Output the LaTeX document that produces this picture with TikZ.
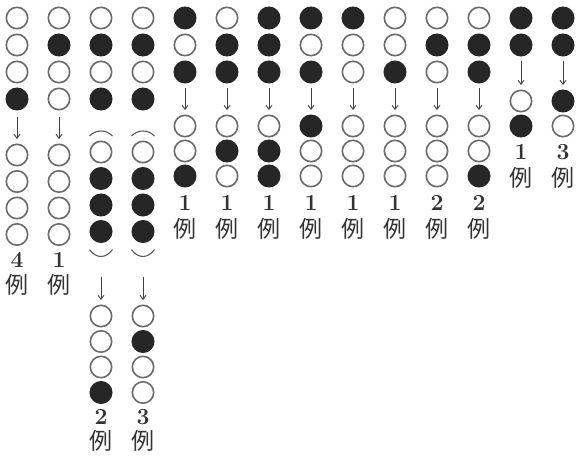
\documentclass[tikz,border=0pt]{standalone}
\usepackage{fontspec}
\newfontfamily\jpfont{Noto Sans CJK JP}
\usetikzlibrary{calc,arrows.meta}

\begin{document}
\begin{tikzpicture}[x=1pt,y=-1pt,
    wt/.style={circle,draw=black!58,line width=1.6pt,fill=white,minimum size=21.4pt,inner sep=0pt},
    bk/.style={circle,draw=black!85,line width=1.6pt,fill=black!85,minimum size=21.4pt,inner sep=0pt},
    go/.style={-{Straight Barb[length=4pt,width=6pt]},line width=0.9pt,draw=black!75,shorten >=4.5pt},
    brk/.style={line width=1.1pt,draw=black!65},
    num/.style={font=\fontsize{23}{23}\selectfont\bfseries,text=black!80,inner sep=0pt},
    rei/.style={font=\jpfont\fontsize{23}{23}\selectfont,text=black!80,inner sep=0pt}]
\useasboundingbox (0,0) rectangle (577,463);

% four over four
\foreach \k/\up/\lo/\cnt in {1/{wt,wt,wt,bk}/{wt,wt,wt,wt}/4, 2/{wt,bk,wt,wt}/{wt,wt,wt,wt}/1}{
    \foreach \s [count=\i] in \up
        \node[\s] (c\k-\i) at ({17+42*(\k-1)},{18+27*(\i-1)}) {};
    \foreach \s [count=\i from 5] in \lo
        \node[\s] (c\k-\i) at ({17+42*(\k-1)},{155+26.5*(\i-5)}) {};
    \draw[go,shorten <=6.5pt] (c\k-4) -- (c\k-5);
    \node[num] (n\k) at ({17+42*(\k-1)},260) {\cnt};
    \node[rei] (r\k) at ({17+42*(\k-1)},285) {例};
}

% four, bracketed four, four
\foreach \k/\lo/\cnt in {3/{wt,wt,wt,bk}/2, 4/{wt,bk,wt,wt}/3}{
    \foreach \s [count=\i] in {wt,bk,wt,bk}
        \node[\s] (c\k-\i) at ({17+42*(\k-1)},{18+27*(\i-1)}) {};
    \foreach \s [count=\i from 5] in {wt,bk,bk,bk}
        \node[\s] (c\k-\i) at ({17+42*(\k-1)},{152+26.5*(\i-5)}) {};
    \foreach \s [count=\i from 9] in \lo
        \node[\s] (c\k-\i) at ({17+42*(\k-1)},{316+25.5*(\i-9)}) {};
    \draw[brk] ($(c\k-5)+(-11.5,-16)$) .. controls ($(c\k-5)+(-5,-22.7)$) and ($(c\k-5)+(5,-22.7)$) .. ($(c\k-5)+(11.5,-16)$);
    \draw[brk] ($(c\k-8)+(-11.5,18)$) .. controls ($(c\k-8)+(-5,27.3)$) and ($(c\k-8)+(5,27.3)$) .. ($(c\k-8)+(11.5,18)$);
    \draw[go,shorten <=33.5pt] (c\k-8) -- (c\k-9);
    \node[num] (n\k) at ({17+42*(\k-1)},417) {\cnt};
    \node[rei] (r\k) at ({17+42*(\k-1)},441) {例};
}

% three over three
\foreach \k/\up/\lo/\cnt in {5/{bk,wt,bk}/{wt,wt,bk}/1, 6/{wt,bk,bk}/{wt,bk,wt}/1,
        7/{bk,bk,bk}/{wt,bk,bk}/1, 8/{bk,wt,bk}/{bk,wt,wt}/1, 9/{bk,wt,wt}/{wt,wt,wt}/1,
        10/{wt,wt,bk}/{wt,wt,wt}/1, 11/{wt,bk,wt}/{wt,wt,wt}/2, 12/{wt,bk,bk}/{wt,wt,bk}/2}{
    \foreach \s [count=\i] in \up
        \node[\s] (c\k-\i) at ({17+42*(\k-1)},{18+27*(\i-1)}) {};
    \foreach \s [count=\i from 4] in \lo
        \node[\s] (c\k-\i) at ({17+42*(\k-1)},{126+25*(\i-4)}) {};
    \draw[go,shorten <=4.5pt] (c\k-3) -- (c\k-4);
    \node[num] (n\k) at ({17+42*(\k-1)},203) {\cnt};
    \node[rei] (r\k) at ({17+42*(\k-1)},229) {例};
}

% two over two
\foreach \k/\lo/\cnt in {13/{wt,bk}/1, 14/{bk,wt}/3}{
    \foreach \s [count=\i] in {bk,bk}
        \node[\s] (c\k-\i) at ({17+42*(\k-1)},{18+27*(\i-1)}) {};
    \foreach \s [count=\i from 3] in \lo
        \node[\s] (c\k-\i) at ({17+42*(\k-1)},{101+25*(\i-3)}) {};
    \draw[go,shorten <=4pt] (c\k-2) -- (c\k-3);
    \node[num] (n\k) at ({17+42*(\k-1)},152) {\cnt};
    \node[rei] (r\k) at ({17+42*(\k-1)},178) {例};
}
\end{tikzpicture}
\end{document}
